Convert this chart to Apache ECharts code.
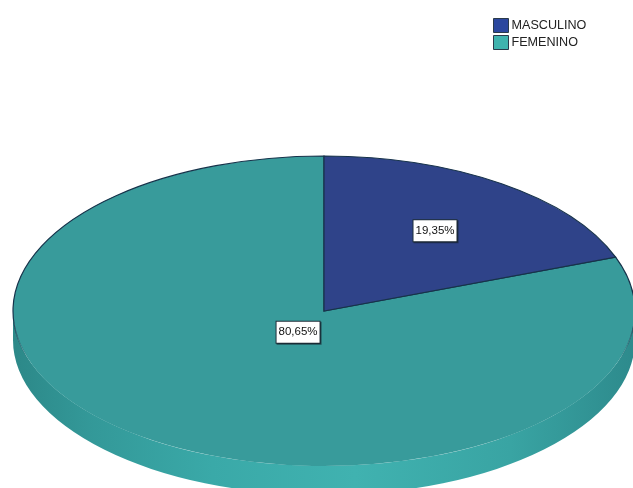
<!DOCTYPE html>
<html>
<head>
<meta charset="utf-8">
<style>html,body{margin:0;padding:0;background:#fff}#chart{width:633px;height:488px}</style>
<script src="https://cdn.jsdelivr.net/npm/echarts@6/dist/echarts.min.js"></script>
</head>
<body>
<div id="chart"></div>
<script>
// Share of respondents by sex
const categories = ['MASCULINO', 'FEMENINO'];
const shares = [19.35, 80.65];
const shareLabels = ['19,35%', '80,65%'];

// Presentation settings
const topColors = ['#2f4389', '#389b9b'];
const legendColors = ['#2b479e', '#3fb3ae'];
const labelRadiusX = [0.625, 0.146];
const labelRadiusY = [0.63, 0.167];
const disc = { cx: 324, cy: 311, rx: 311, ry: 155, depth: 29 };

const total = shares.reduce((a, b) => a + b, 0);
const rad = d => d * Math.PI / 180;
const px = (d, dy = 0) => [disc.cx + disc.rx * Math.sin(rad(d)), disc.cy - disc.ry * Math.cos(rad(d)) + dy];

// Start and end angle of each slice, clockwise from twelve o'clock
const spans = [];
shares.reduce((acc, v) => { const next = acc + v / total * 360; spans.push([acc, next]); return next; }, 0);

function arc(to, large, sweep) {
  return `A ${disc.rx} ${disc.ry} 0 ${large ? 1 : 0} ${sweep} ${to[0]} ${to[1]}`;
}

function renderSlice(i) {
  return function () {
    const [a, b] = spans[i];
    const children = [];

    // Rim: only the part of the slice facing the viewer
    const wa = Math.max(a, 90), wb = Math.min(b, 270);
    if (wb > wa) {
      const p0 = px(wa), p1 = px(wb), q0 = px(wa, disc.depth), q1 = px(wb, disc.depth);
      const large = wb - wa > 180;
      children.push({
        type: 'path',
        shape: { pathData: `M ${p0[0]} ${p0[1]} ${arc(p1, large, 1)} L ${q1[0]} ${q1[1]} ${arc(q0, large, 0)} Z` },
        style: {
          fill: {
            type: 'linear', global: true, x: disc.cx - disc.rx, y: 0, x2: disc.cx + disc.rx, y2: 0,
            colorStops: [
              { offset: 0, color: '#2c8888' },
              { offset: 0.12, color: '#339898' },
              { offset: 0.32, color: '#3aa9a8' },
              { offset: 0.55, color: '#40b2b0' },
              { offset: 0.8, color: '#39a4a3' },
              { offset: 1, color: '#2d8a8c' }
            ]
          }
        }
      });
    }

    // Top face, outlined darkly along its upper half and fading toward the front
    const s = px(a), e = px(b);
    children.push({
      type: 'path',
      shape: { pathData: `M ${disc.cx} ${disc.cy} L ${s[0]} ${s[1]} ${arc(e, b - a > 180, 1)} Z` },
      style: {
        fill: topColors[i],
        lineWidth: 1.2,
        stroke: {
          type: 'linear', global: true, x: 0, y: disc.cy - disc.ry, x2: 0, y2: disc.cy + disc.ry,
          colorStops: [
            { offset: 0, color: '#16324a' },
            { offset: 0.52, color: '#16324a' },
            { offset: 0.66, color: 'rgba(22,50,74,0)' },
            { offset: 1, color: 'rgba(22,50,74,0)' }
          ]
        }
      }
    });

    // Percentage tag
    const mid = (a + b) / 2;
    children.push({
      type: 'text',
      z2: 10,
      style: {
        x: disc.cx + disc.rx * labelRadiusX[i] * Math.sin(rad(mid)),
        y: disc.cy - disc.ry * labelRadiusY[i] * Math.cos(rad(mid)),
        text: shareLabels[i],
        align: 'center',
        verticalAlign: 'middle',
        fill: '#111',
        font: '11.5px "Liberation Sans", Arial, sans-serif',
        backgroundColor: '#fff',
        borderColor: '#1f2f3a',
        borderWidth: 1,
        shadowColor: 'rgba(20,30,40,0.6)',
        shadowOffsetX: 1,
        shadowOffsetY: 1,
        padding: [5, 2, 4, 2]
      }
    });
    return { type: 'group', children };
  };
}

const chart = echarts.init(document.getElementById('chart'), null, { renderer: 'canvas' });
chart.setOption({
  animation: false,
  backgroundColor: '#fff',
  legend: {
    left: 493,
    top: 18,
    padding: 0,
    orient: 'vertical',
    itemWidth: 15,
    itemHeight: 14,
    itemGap: 2,
    icon: 'rect',
    selectedMode: false,
    textStyle: { color: '#222', fontSize: 12.6, lineHeight: 14, fontFamily: '"Liberation Sans", Arial, sans-serif', padding: [0, 0, 0, -2] },
    data: categories.map((name, i) => ({
      name,
      itemStyle: { color: legendColors[i], borderColor: '#2a3a4a', borderWidth: 1 }
    }))
  },
  series: categories.map((name, i) => ({
    type: 'custom',
    name,
    coordinateSystem: 'none',
    silent: true,
    clip: false,
    z: i === 1 ? 2 : 3,
    itemStyle: { color: legendColors[i] },
    renderItem: renderSlice(i),
    data: [shares[i]]
  }))
});
</script>
</body>
</html>
